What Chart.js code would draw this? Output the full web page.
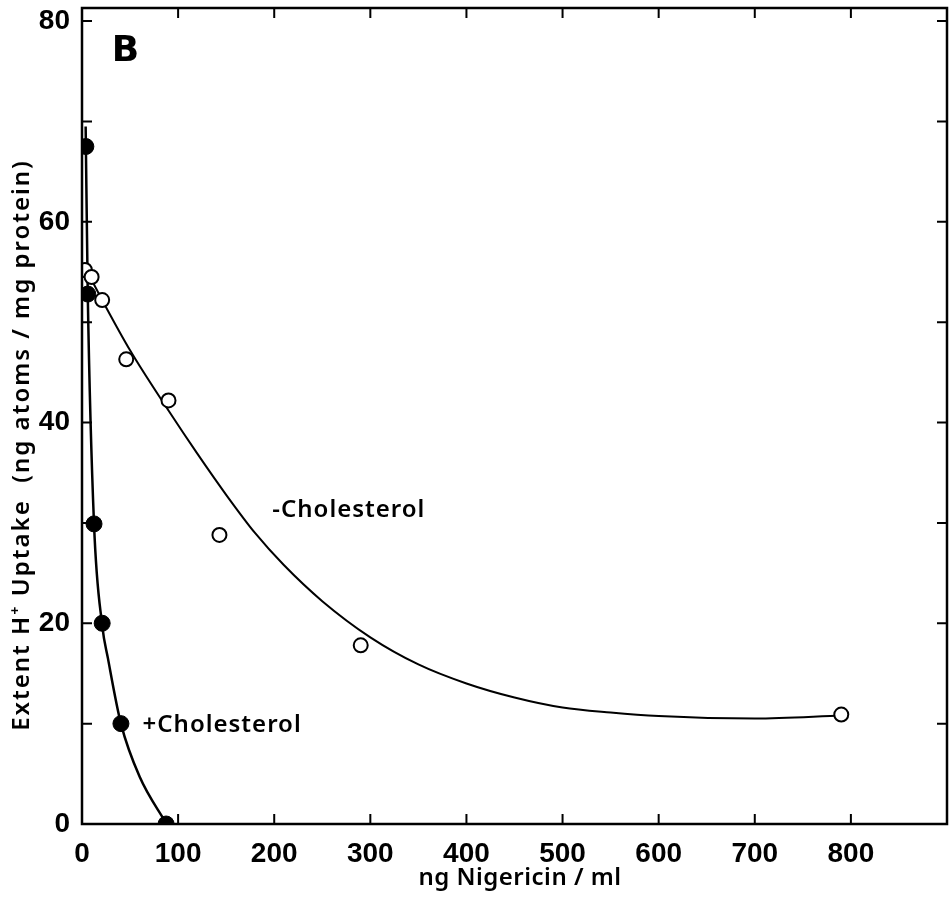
<!DOCTYPE html>
<html>
<head>
<meta charset="utf-8">
<script src="https://cdn.jsdelivr.net/npm/chart.js@4/dist/chart.umd.min.js"></script>
<style>
  html, body { margin: 0; padding: 0; background: #fff; }
</style>
</head>
<body>
<canvas id="chart" width="950" height="897"></canvas>
<script>
// measured points (ng nigericin/ml vs extent H+ uptake)
const minusCholX = [3, 10, 21, 46, 90, 143, 290, 790];
const minusCholY = [55.2, 54.5, 52.2, 46.3, 42.2, 28.8, 17.8, 10.9];
const plusCholX = [4, 6, 12.5, 21, 40.5, 87.5];
const plusCholY = [67.5, 52.8, 29.9, 20, 10, 0];

// hand-fitted curves as drawn in the figure
const minusFitX = [3, 21, 50, 90, 120, 150, 180, 210, 250, 300, 350, 400, 450, 500, 550, 600, 700, 791];
const minusFitY = [55.5, 52.2, 47.2, 41.2, 36.9, 32.8, 29.0, 25.8, 22.2, 18.6, 15.9, 14.0, 12.6, 11.6, 11.1, 10.75, 10.5, 10.8];
const plusFitX = [3.8, 6, 12.5, 21, 27, 40.5, 60, 88];
const plusFitY = [69.5, 52.7, 29.9, 19.8, 16.5, 10, 4.7, 0];

const xTicks = [0, 100, 200, 300, 400, 500, 600, 700, 800];
const yTicks = [0, 20, 40, 60, 80];

const xTitle = 'ng Nigericin / ml';
const yTitle = 'Extent H\u207A Uptake  (ng atoms / mg protein)';

function toXY(xs, ys) {
    return xs.map((x, i) => ({ x: x, y: ys[i] }));
}

const frame = {
    id: 'frame',
    afterDraw(chart) {
        const ctx = chart.ctx;
        const a = chart.chartArea;
        const xs = chart.scales.x, ys = chart.scales.y;
        ctx.save();
        ctx.strokeStyle = '#000';
        ctx.lineWidth = 2.5;
        ctx.strokeRect(a.left, a.top, a.right - a.left, a.bottom - a.top);
        ctx.lineWidth = 2;
        // inward ticks
        for (let v = 100; v <= 800; v += 100) {
            let px = xs.getPixelForValue(v);
            ctx.beginPath();
            ctx.moveTo(px, a.bottom); ctx.lineTo(px, a.bottom - 10);
            ctx.moveTo(px, a.top); ctx.lineTo(px, a.top + 10);
            ctx.stroke();
        }
        for (let v = 10; v <= 80; v += 10) {
            let py = ys.getPixelForValue(v);
            ctx.beginPath();
            ctx.moveTo(a.left, py); ctx.lineTo(a.left + 10, py);
            ctx.moveTo(a.right, py); ctx.lineTo(a.right - 10, py);
            ctx.stroke();
        }
        // labels
        ctx.fillStyle = '#000';
        ctx.textBaseline = 'middle';
        ctx.textAlign = 'left';
        ctx.font = 'bold 36px "DejaVu Sans"';
        ctx.fillText('B', xs.getPixelForValue(31), ys.getPixelForValue(77.0));
        ctx.font = '600 24px "Noto Sans"';
        ctx.letterSpacing = '1px';
        ctx.fillText('-Cholesterol', xs.getPixelForValue(198), ys.getPixelForValue(31.3));
        ctx.fillText('+Cholesterol', xs.getPixelForValue(63), ys.getPixelForValue(9.8));

        // axis titles
        ctx.textAlign = 'center';
        ctx.letterSpacing = '0.5px';
        ctx.font = '600 24px "Noto Sans"';
        ctx.fillText(xTitle, 520, 878);
        ctx.translate(22, 445);
        ctx.rotate(-Math.PI / 2);
        ctx.letterSpacing = '2px';
        ctx.fillText(yTitle, 0, 0);
        ctx.restore();
    }
};

new Chart(document.getElementById('chart'), {
    type: 'scatter',
    data: {
        datasets: [
            {
                label: '-Cholesterol',
                data: toXY(minusCholX, minusCholY),
                pointRadius: 7,
                pointBorderWidth: 2,
                pointBackgroundColor: '#fff',
                pointBorderColor: '#000',
                showLine: false
            },
            {
                label: '+Cholesterol',
                data: toXY(plusCholX, plusCholY),
                pointRadius: 8,
                pointBackgroundColor: '#000',
                pointBorderColor: '#000',
                showLine: false
            },
            {
                label: 'fit -',
                data: toXY(minusFitX, minusFitY),
                showLine: true,
                pointRadius: 0,
                borderColor: '#000',
                borderWidth: 2,
                cubicInterpolationMode: 'monotone'
            },
            {
                label: 'fit +',
                data: toXY(plusFitX, plusFitY),
                showLine: true,
                pointRadius: 0,
                borderColor: '#000',
                borderWidth: 2.5,
                cubicInterpolationMode: 'monotone'
            }
        ]
    },
    options: {
        responsive: false,
        animation: false,
        layout: { autoPadding: false, padding: { top: 8, right: 3, left: 0, bottom: 0 } },
        plugins: { legend: { display: false }, tooltip: { enabled: false } },
        scales: {
            x: {
                type: 'linear',
                min: 0, max: 900,
                afterFit: s => { s.height = 73; s.paddingLeft = 0; s.paddingRight = 0; },
                afterBuildTicks: s => { s.ticks = xTicks.map(v => ({ value: v })); },
                grid: { display: false },
                border: { display: false },
                ticks: {
                    color: '#000',
                    padding: 5,
                    maxRotation: 0,
                    font: { family: 'Liberation Sans', weight: 'bold', size: 28 }
                }
            },
            y: {
                min: 0, max: 81.3,
                afterFit: s => { s.width = 82; s.paddingTop = 0; s.paddingBottom = 0; },
                afterBuildTicks: s => { s.ticks = yTicks.map(v => ({ value: v })); },
                grid: { display: false },
                border: { display: false },
                ticks: {
                    color: '#000',
                    padding: 4,
                    font: { family: 'Liberation Sans', weight: 'bold', size: 28 }
                }
            }
        }
    },
    plugins: [frame]
});
</script>
</body>
</html>
